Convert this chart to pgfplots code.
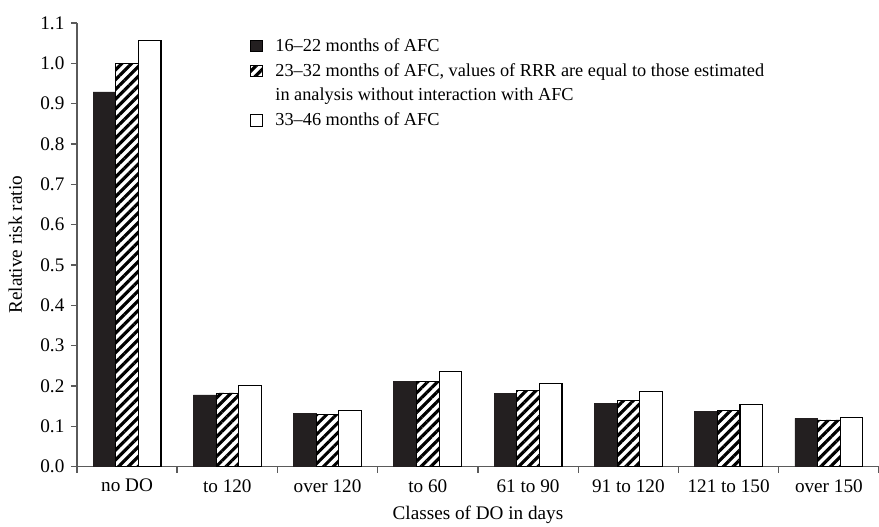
\documentclass[border=0pt]{standalone}
\usepackage{fontspec}
\setmainfont{Liberation Serif}
\usepackage{pgfplots}
\pgfplotsset{compat=1.18}
\usetikzlibrary{patterns.meta}
\definecolor{barblack}{HTML}{231F20}
\definecolor{axgray}{HTML}{5A5A5A}
\begin{document}
\fontsize{12.5}{15.3}\selectfont
\begin{tikzpicture}
\begin{axis}[
  name=ax,
  width=535pt, height=296pt, scale only axis,
  xmin=-0.5, xmax=7.5, ymin=0, ymax=1.1,
  ybar=0pt, bar width=15.1pt,
  axis lines*=left,
  axis line style={draw=axgray, line width=0.9pt},
  xtick={0,...,7},
  xticklabels={no DO, to 120, over 120, to 60, 61 to 90, 91 to 120, 121 to 150, over 150},
  minor xtick={-0.5,0.5,1.5,2.5,3.5,4.5,5.5,6.5,7.5},
  major x tick style={draw=none},
  minor x tick style={draw=axgray, line width=0.9pt},
  ytick={0,0.1,0.2,0.3,0.4,0.5,0.6,0.7,0.8,0.9,1.0,1.1},
  major y tick style={draw=axgray, line width=0.9pt},
  tick align=outside, major tick length=4pt, minor tick length=4pt,
  yticklabel style={/pgf/number format/.cd, fixed, fixed zerofill, precision=1, assume math mode=true},
  ylabel={Relative risk ratio},
  xlabel={Classes of DO in days},
  tick label style={font=\fontsize{12.8}{15}\selectfont},
  label style={font=\fontsize{12.8}{15}\selectfont},
  ylabel style={at={(axis description cs:-0.0767,0.5)}, anchor=center},
  xlabel style={at={(axis description cs:0.5,-0.108)}, anchor=center},
  legend style={at={(axis cs:1.226,1.078)}, anchor=north west, draw=none, fill=none,
    cells={anchor=base west, inner sep=0pt}, row sep=0pt, column sep=6.2pt, inner sep=0pt,
    font=\fontsize{12.2}{15.3}\selectfont},
  legend image code/.code={\draw[#1, draw=black, line width=0.6pt] (0pt,-0.5pt) rectangle (8pt,7.3pt);},
]
\addplot[fill=barblack, draw=barblack, line width=0.5pt] coordinates {
  (0,0.929) (1,0.178) (2,0.131) (3,0.211) (4,0.182) (5,0.157) (6,0.136) (7,0.120)};
\addplot[pattern={Lines[angle=45,distance=4.6pt,line width=2.1pt]}, pattern color=black, draw=black, line width=0.5pt] coordinates {
  (0,1.000) (1,0.183) (2,0.130) (3,0.212) (4,0.190) (5,0.164) (6,0.139) (7,0.116)};
\addlegendimage{empty legend}
\addplot[fill=white, draw=black, line width=0.8pt] coordinates {
  (0,1.057) (1,0.202) (2,0.140) (3,0.237) (4,0.206) (5,0.186) (6,0.155) (7,0.121)};
\addlegendentry{16--22 months of AFC\rule[-8.6pt]{0pt}{19.3pt}}
\addlegendentry{23--32 months of AFC, values of RRR are equal to those estimated\strut}
\addlegendentry{in analysis without interaction with AFC\strut}
\addlegendentry{33--46 months of AFC\strut}
\end{axis}
\pgfresetboundingbox
\path ([shift={(-51.3pt,-40pt)}]ax.south west) rectangle ([shift={(0pt,15.3pt)}]ax.north east);
\end{tikzpicture}
\end{document}
